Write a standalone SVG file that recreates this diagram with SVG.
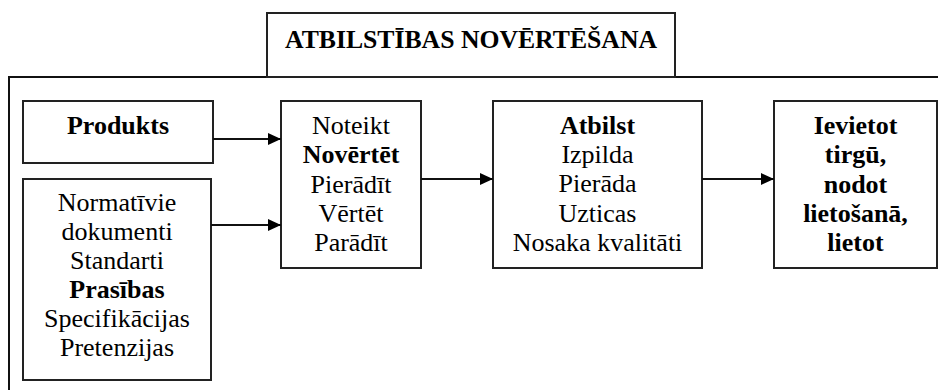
<svg xmlns="http://www.w3.org/2000/svg" width="938" height="390" viewBox="0 0 938 390">
<style>
.box{fill:#fff;stroke:#222;stroke-width:2}
.t{font-family:'Liberation Serif','Times New Roman','DejaVu Serif',serif;font-size:26px;fill:#000;text-anchor:middle}
.b{font-weight:bold}
.ln{stroke:#111;stroke-width:2;fill:none}
</style>
<defs>
<marker id="ah" markerUnits="userSpaceOnUse" markerWidth="14" markerHeight="12" refX="13" refY="6" orient="auto">
<path d="M0,0 L13,6 L0,12 Z" fill="#000"/>
</marker>
</defs>
<rect width="938" height="390" fill="#fff"/>
<g id="frame">
<path class="ln" d="M9,391 V77 H940"/>
</g>
<g id="title">
<rect class="box" x="267" y="13" width="408" height="64"/>
<text class="t b" x="471" y="48" textLength="372" lengthAdjust="spacingAndGlyphs">ATBILSTĪBAS NOVĒRTĒŠANA</text>
</g>
<g id="produkts">
<rect class="box" x="23" y="101" width="190" height="62"/>
<text class="t b" x="118" y="134">Produkts</text>
</g>
<g id="normativie">
<rect class="box" x="23" y="179" width="188" height="201"/>
<text class="t" x="117" y="211">Normatīvie</text>
<text class="t" x="117" y="240">dokumenti</text>
<text class="t" x="117" y="269">Standarti</text>
<text class="t b" x="117" y="298">Prasības</text>
<text class="t" x="117" y="327">Specifikācijas</text>
<text class="t" x="117" y="356">Pretenzijas</text>
</g>
<g id="noteikt">
<rect class="box" x="281" y="101" width="140" height="167"/>
<text class="t" x="351" y="134">Noteikt</text>
<text class="t b" x="351" y="163">Novērtēt</text>
<text class="t" x="351" y="193">Pierādīt</text>
<text class="t" x="351" y="222">Vērtēt</text>
<text class="t" x="351" y="251">Parādīt</text>
</g>
<g id="atbilst">
<rect class="box" x="493" y="101" width="209" height="167"/>
<text class="t b" x="597.5" y="134">Atbilst</text>
<text class="t" x="597.5" y="163">Izpilda</text>
<text class="t" x="597.5" y="192">Pierāda</text>
<text class="t" x="597.5" y="222">Uzticas</text>
<text class="t" x="597.5" y="251">Nosaka kvalitāti</text>
</g>
<g id="ievietot">
<rect class="box" x="774" y="101" width="163" height="167"/>
<text class="t b" x="855.5" y="134">Ievietot</text>
<text class="t b" x="855.5" y="163">tirgū,</text>
<text class="t b" x="855.5" y="193">nodot</text>
<text class="t b" x="855.5" y="222">lietošanā,</text>
<text class="t b" x="855.5" y="251">lietot</text>
</g>
<g id="connectors">
<line class="ln" x1="213" y1="139" x2="281" y2="139" marker-end="url(#ah)"/>
<line class="ln" x1="211" y1="225" x2="281" y2="225" marker-end="url(#ah)"/>
<line class="ln" x1="421" y1="179" x2="493" y2="179" marker-end="url(#ah)"/>
<line class="ln" x1="702" y1="179" x2="774" y2="179" marker-end="url(#ah)"/>
</g>
</svg>
